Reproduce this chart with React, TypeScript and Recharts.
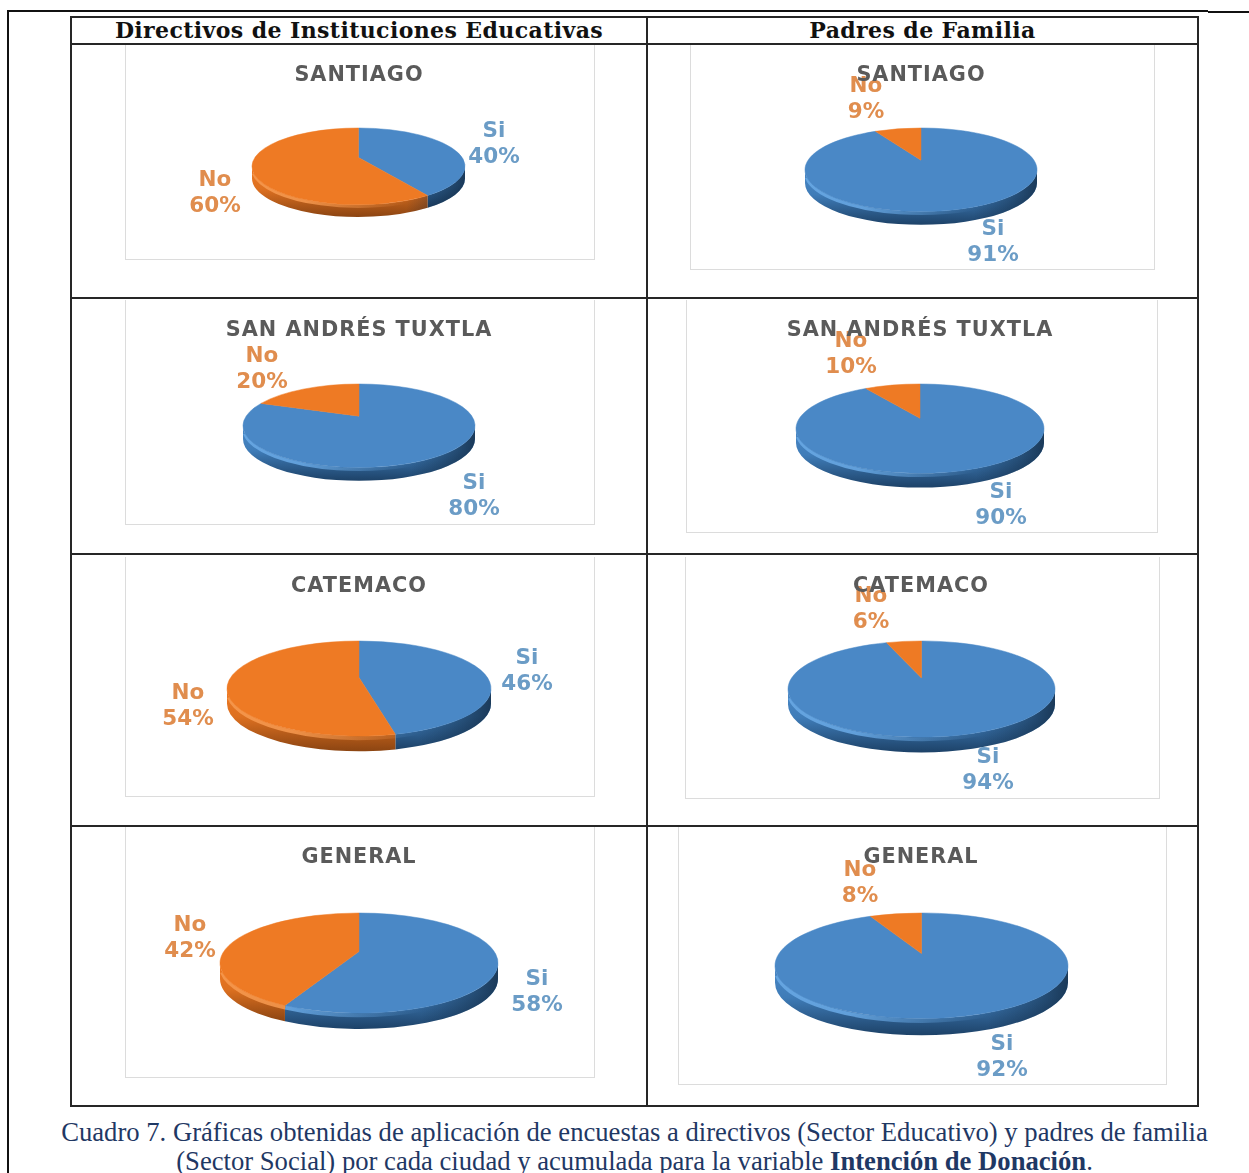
import React from "react";
import { PieChart, Pie } from "recharts";

const cities = ["SANTIAGO", "SAN ANDRÉS TUXTLA", "CATEMACO", "GENERAL"];
const sliceNames = ["Si", "No"];
const directivosSi = [40, 80, 46, 58];
const directivosNo = [60, 20, 54, 42];
const padresSi = [91, 90, 94, 92];
const padresNo = [9, 10, 6, 8];

const headers = ["Directivos de Instituciones Educativas", "Padres de Familia"];

const BLUE = "#4a88c6";
const ORANGE = "#ee7a24";
const LABEL_COLORS: Record<string, string> = { Si: "#6b9cc6", No: "#e08d4e" };
const WALLS: Record<string, string> = { Si: "url(#wallBlue)", No: "url(#wallOrange)" };
const RIMS: Record<string, string> = { Si: "#6aaae6", No: "#f79a50" };

const RY = 0.36;
const DEPTH = 0.115;
const APEX = 0.083;
const SQUEEZE = 0.9;

// layout: frame box, pie centre + radius, title position, label centres
const layouts = [
  { f: [125, 45, 595, 260], cx: 358.5, top: 128, r: 106.5, tx: 359, ty: 74, si: [494, 130], no: [215, 179] },
  { f: [690, 45, 1155, 270], cx: 921, top: 128, r: 116, tx: 921, ty: 74, si: [993, 228], no: [866, 85] },
  { f: [125, 300, 595, 525], cx: 359, top: 384, r: 116, tx: 359, ty: 329, si: [474, 482], no: [262, 355] },
  { f: [686, 300, 1158, 533], cx: 920, top: 384, r: 124, tx: 920, ty: 329, si: [1001, 491], no: [851, 340] },
  { f: [125, 557, 595, 797], cx: 359, top: 641, r: 132, tx: 359, ty: 585, si: [527, 657], no: [188, 692] },
  { f: [685, 557, 1160, 799], cx: 921.5, top: 641, r: 133.5, tx: 921, ty: 585, si: [988, 756], no: [871, 595] },
  { f: [125, 827, 595, 1078], cx: 359, top: 913, r: 139, tx: 359, ty: 856, si: [537, 978], no: [190, 924] },
  { f: [678, 827, 1167, 1085], cx: 921.5, top: 913, r: 146.5, tx: 921, ty: 856, si: [1002, 1043], no: [860, 869] },
];

const panelValues = [0, 1, 2, 3].flatMap((i) => [
  [directivosSi[i], directivosNo[i]],
  [padresSi[i], padresNo[i]],
]);
const panelCities = [0, 1, 2, 3].flatMap((i) => [cities[i], cities[i]]);

// Perspective: slice rays leave an apex above the ellipse centre; returns the
// parametric rim angle (degrees, clockwise from the top) where the ray lands.
const rimAngle = (deg: number) => {
  const a = (deg * Math.PI) / 180;
  const ay = -APEX / RY;
  const dx = Math.sin(a) * SQUEEZE;
  const dy = -Math.cos(a);
  const A = dx * dx + dy * dy;
  const b = ay * dy;
  const c = ay * ay - 1;
  const t = (-b + Math.sqrt(b * b - A * c)) / A;
  const x = t * dx;
  const y = ay + t * dy;
  let phi = (Math.atan2(x, -y) * 180) / Math.PI;
  phi += 360 * Math.round((deg - phi) / 360);
  return phi;
};

const pt = (cx: number, cy: number, r: number, phi: number) => {
  const a = (phi * Math.PI) / 180;
  return [cx + r * Math.sin(a), cy - r * RY * Math.cos(a)];
};

function TopFace(props: any) {
  const { cx, cy, outerRadius: r, startAngle, endAngle, fill } = props;
  const s = rimAngle(90 - startAngle);
  const e = rimAngle(90 - endAngle);
  const [x0, y0] = pt(cx, cy, r, s);
  const [x1, y1] = pt(cx, cy, r, e);
  const apexY = cy - r * APEX;
  const large = e - s > 180 ? 1 : 0;
  const d = `M${cx},${apexY}L${x0},${y0}A${r},${r * RY} 0 ${large} 1 ${x1},${y1}Z`;
  return <path d={d} fill={fill} stroke={fill} strokeWidth={0.5} />;
}

function Wall(props: any) {
  const { cx, cy, outerRadius: r, startAngle, endAngle, name } = props;
  const s = Math.max(rimAngle(90 - startAngle), 90);
  const e = Math.min(rimAngle(90 - endAngle), 270);
  if (e <= s) return null;
  const depth = r * DEPTH;
  const [x0, y0] = pt(cx, cy, r, s);
  const [x1, y1] = pt(cx, cy, r, e);
  const d = `M${x0},${y0}A${r},${r * RY} 0 0 1 ${x1},${y1}L${x1},${y1 + depth}A${r},${r * RY} 0 0 0 ${x0},${y0 + depth}Z`;
  const id = `shade-${Math.round(cx)}-${Math.round(r)}-${name}`;
  const rimId = `${id}-rim`;
  // lighter bevel along the lower-left rim, fading toward the right
  const hs = Math.max(s, 120);
  const he = Math.min(e, 262);
  const [hx0, hy0] = pt(cx, cy + depth * 0.15, r * 0.995, hs);
  const [hx1, hy1] = pt(cx, cy + depth * 0.15, r * 0.995, he);
  return (
    <g>
      <defs>
        <linearGradient id={id} gradientUnits="userSpaceOnUse" x1={cx + r * 0.45} y1={0} x2={cx + r} y2={0}>
          <stop offset="0%" stopColor="#0d2238" stopOpacity={0} />
          <stop offset="100%" stopColor="#0d2238" stopOpacity={0.75} />
        </linearGradient>
        <linearGradient id={rimId} gradientUnits="userSpaceOnUse" x1={cx - r * 0.5} y1={0} x2={cx + r * 0.45} y2={0}>
          <stop offset="0%" stopColor={RIMS[name]} stopOpacity={0.85} />
          <stop offset="100%" stopColor={RIMS[name]} stopOpacity={0} />
        </linearGradient>
      </defs>
      <path d={d} fill={WALLS[name]} />
      <path d={d} fill={`url(#${id})`} />
      {he > hs ? (
        <path
          d={`M${hx0},${hy0}A${r * 0.995},${r * 0.995 * RY} 0 0 1 ${hx1},${hy1}`}
          fill="none"
          stroke={`url(#${rimId})`}
          strokeWidth={depth * 0.25}
        />
      ) : null}
    </g>
  );
}

function Panel({ index }: { index: number }) {
  const l = layouts[index];
  const [fx0, fy0, fx1, fy1] = l.f;
  const data = sliceNames.map((name, i) => ({
    name,
    value: panelValues[index][i],
    fill: i === 0 ? BLUE : ORANGE,
  }));
  const cx = l.cx - fx0;
  const cy = l.top + l.r * RY - fy0;
  const renderLabel = (p: any) => {
    const pos = p.name === "Si" ? l.si : l.no;
    const color = LABEL_COLORS[p.name];
    return (
      <text
        key={p.name}
        textAnchor="middle"
        fontFamily="'DejaVu Sans', sans-serif"
        fontWeight={700}
        fontSize={21.5}
        fill={color}
      >
        <tspan x={pos[0] - fx0} y={pos[1] - fy0 + 7}>{p.name}</tspan>
        <tspan x={pos[0] - fx0} y={pos[1] - fy0 + 33}>{`${p.value}%`}</tspan>
      </text>
    );
  };
  return (
    <>
      <div
        style={{
          position: "absolute",
          left: fx0,
          top: fy0,
          width: fx1 - fx0,
          height: fy1 - fy0,
          boxSizing: "border-box",
          borderLeft: "1.5px solid #dcdcdc",
          borderRight: "1.5px solid #dcdcdc",
          borderBottom: "1.5px solid #dcdcdc",
        }}
      />
      <div style={{ position: "absolute", left: fx0, top: fy0, filter: "blur(0.7px)" }}>
        <PieChart width={fx1 - fx0} height={fy1 - fy0 + 16} margin={{ top: 0, right: 0, bottom: 0, left: 0 }}>
          <Pie
            data={data}
            dataKey="value"
            nameKey="name"
            cx={cx}
            cy={cy}
            innerRadius={0}
            outerRadius={l.r}
            startAngle={90}
            endAngle={-270}
            stroke="none"
            shape={Wall}
            isAnimationActive={false}
          />
          <Pie
            data={data}
            dataKey="value"
            nameKey="name"
            cx={cx}
            cy={cy}
            innerRadius={0}
            outerRadius={l.r}
            startAngle={90}
            endAngle={-270}
            stroke="none"
            shape={TopFace}
            labelLine={false}
            label={renderLabel}
            isAnimationActive={false}
          />
        </PieChart>
      </div>
      <div
        style={{
          position: "absolute",
          left: l.tx - 200,
          width: 400,
          top: l.ty - 14,
          height: 28,
          lineHeight: "28px",
          textAlign: "center",
          fontFamily: "'DejaVu Sans', sans-serif",
          fontWeight: 700,
          fontSize: 20.8,
          letterSpacing: 1,
          color: "#5a5a5a",
          filter: "blur(0.5px)",
        }}
      >
        {panelCities[index]}
      </div>
    </>
  );
}

const lineColor = "#262626";
const HLine = ({ x0, x1, y, h = 2, c = lineColor }: any) => (
  <div style={{ position: "absolute", left: x0, top: y, width: x1 - x0, height: h, background: c }} />
);
const VLine = ({ x, y0, y1, w = 2, c = lineColor }: any) => (
  <div style={{ position: "absolute", left: x, top: y0, width: w, height: y1 - y0, background: c }} />
);

export default function App() {
  return (
    <div
      style={{
        position: "absolute",
        left: 0,
        top: 0,
        width: 1249,
        height: 1173,
        overflow: "hidden",
        background: "#fff",
      }}
    >
      <svg width={0} height={0} style={{ position: "absolute" }}>
        <defs>
          <linearGradient id="wallBlue" x1="0" y1="0" x2="0" y2="1">
            <stop offset="0%" stopColor="#4a88c6" />
            <stop offset="45%" stopColor="#3f7cb8" />
            <stop offset="100%" stopColor="#1d4268" />
          </linearGradient>
          <linearGradient id="wallOrange" x1="0" y1="0" x2="0" y2="1">
            <stop offset="0%" stopColor="#ee7a24" />
            <stop offset="45%" stopColor="#dd7020" />
            <stop offset="100%" stopColor="#8c4512" />
          </linearGradient>
        </defs>
      </svg>

      <HLine x0={7} x1={1208} y={10} h={1.5} c="#111" />
      <HLine x0={1208} x1={1249} y={11} h={2} c="#111" />
      <VLine x={7} y0={10} y1={1173} w={1.5} c="#111" />

      {layouts.map((_, i) => (
        <Panel key={i} index={i} />
      ))}

      <HLine x0={71} x1={1199} y={16} />
      <HLine x0={71} x1={1199} y={43} />
      <HLine x0={71} x1={1199} y={297} />
      <HLine x0={71} x1={1199} y={553} />
      <HLine x0={71} x1={1199} y={825} />
      <HLine x0={71} x1={1199} y={1105} />
      <VLine x={70} y0={16} y1={1107} />
      <VLine x={646} y0={16} y1={1107} />
      <VLine x={1197} y0={16} y1={1107} />

      {headers.map((h, i) => (
        <div
          key={h}
          style={{
            position: "absolute",
            left: i === 0 ? 71 : 647,
            width: i === 0 ? 576 : 551,
            top: 16,
            height: 28,
            lineHeight: "28px",
            textAlign: "center",
            fontFamily: "'DejaVu Serif', serif",
            fontWeight: 700,
            fontSize: 22,
            letterSpacing: 0.4,
            color: "#111",
            whiteSpace: "nowrap",
          }}
        >
          {h}
        </div>
      ))}

      <div
        style={{
          position: "absolute",
          left: 0,
          width: 1269,
          top: 1118,
          textAlign: "center",
          fontFamily: "'Liberation Serif', serif",
          fontSize: 26.65,
          lineHeight: "29px",
          color: "#1f3864",
          whiteSpace: "nowrap",
        }}
      >
        Cuadro 7. Gráficas obtenidas de aplicación de encuestas a directivos (Sector Educativo) y padres de familia
        <br />
        (Sector Social) por cada ciudad y acumulada para la variable <b>Intención de Donación</b>.
      </div>
    </div>
  );
}
